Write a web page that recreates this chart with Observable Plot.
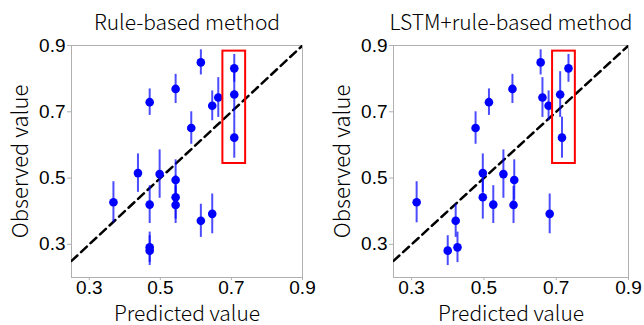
<!DOCTYPE html>
<html>
<head>
<meta charset="utf-8">
<script src="https://cdn.jsdelivr.net/npm/d3@7"></script>
<script src="https://cdn.jsdelivr.net/npm/@observablehq/plot@0.6"></script>
<style>
  html, body { margin: 0; padding: 0; background: #fff; }
  #row { display: flex; width: 644px; height: 325px; }
  #row svg { display: block; }
</style>
</head>
<body>
<div id="row"></div>
<script>
// ---- data ----
const panelTitles = ["Rule-based method", "LSTM+rule-based method"];
const observed    = [0.427, 0.515, 0.729, 0.420, 0.291, 0.281, 0.512, 0.769, 0.494, 0.442,
                     0.419, 0.651, 0.849, 0.371, 0.718, 0.392, 0.743, 0.831, 0.752, 0.622];
const observedErr = [0.062, 0.058, 0.040, 0.057, 0.046, 0.045, 0.073, 0.044, 0.061, 0.066,
                     0.056, 0.049, 0.038, 0.050, 0.045, 0.060, 0.060, 0.042, 0.069, 0.062];
const predRule    = [0.368, 0.437, 0.470, 0.470, 0.470, 0.470, 0.498, 0.543, 0.543, 0.543,
                     0.543, 0.587, 0.614, 0.614, 0.646, 0.646, 0.663, 0.708, 0.708, 0.708];
const predLSTM    = [0.314, 0.497, 0.514, 0.526, 0.427, 0.400, 0.554, 0.579, 0.584, 0.497,
                     0.582, 0.477, 0.657, 0.422, 0.679, 0.682, 0.662, 0.734, 0.711, 0.716];
const tickValues  = [0.3, 0.5, 0.7, 0.9];
const xDomain     = [0.25, 0.9];
const yDomain     = [0.2, 0.9];
const boxX        = [[0.676, 0.740], [0.690, 0.753]];
const boxY        = [0.544, 0.883];

const labelFont = "'Noto Sans CJK JP', 'Noto Sans', sans-serif";
const tickFont  = "'Liberation Sans', Arial, sans-serif";

function panel(i, predicted, layout) {
  const data = observed.map((y, k) => ({x: predicted[k], y, e: observedErr[k]}));
  const box = [{x1: boxX[i][0], x2: boxX[i][1], y1: boxY[0], y2: boxY[1]}];
  const diag = xDomain.map(v => ({v}));
  return Plot.plot({
    width: layout.width,
    height: 325,
    marginLeft: layout.ml,
    marginRight: layout.mr,
    marginTop: 45,
    marginBottom: 48,
    style: {background: "#fff", color: "#000", fontFamily: tickFont, overflow: "visible"},
    x: {domain: xDomain, ticks: tickValues, tickFormat: d3.format(".1f")},
    y: {domain: yDomain, ticks: tickValues, tickFormat: d3.format(".1f")},
    marks: [
      Plot.frame({stroke: "#b0b0b0", strokeWidth: 1}),
      Plot.axisX({ticks: tickValues, tickFormat: d3.format(".1f"), tickSize: 3, stroke: "#b0b0b0",
                  fontSize: 19, tickPadding: 0, fontFamily: tickFont,
                  label: null}),
      Plot.axisY({ticks: tickValues, tickFormat: d3.format(".1f"), tickSize: 4, stroke: "#b0b0b0",
                  fontSize: 19, tickPadding: 2, fontFamily: tickFont,
                  label: null}),
      Plot.text(["Predicted value"], {frameAnchor: "bottom", dy: 43, fontSize: 21, fontWeight: 300,
                  fontFamily: labelFont, fill: "#000"}),
      Plot.text(["Observed value"], {frameAnchor: "left", textAnchor: "middle", dx: -51, rotate: -90,
                  fontSize: 22, fontWeight: 300, fontFamily: labelFont, fill: "#000"}),
      Plot.text([panelTitles[i]], {frameAnchor: "top", dy: -30, fontSize: 21, fontWeight: 300,
                  fontFamily: labelFont, fill: "#000"}),
      Plot.line(diag, {x: "v", y: "v", stroke: "#000", strokeWidth: 2.5, strokeDasharray: "8,5", clip: true}),
      Plot.ruleX(data, {x: "x", y1: d => d.y - d.e, y2: d => d.y + d.e,
                  stroke: "#0000ff", strokeOpacity: 0.7, strokeWidth: 2}),
      Plot.dot(data, {x: "x", y: "y", r: 4.3, fill: "#0000ff", stroke: "none"}),
      Plot.rect(box, {x1: "x1", x2: "x2", y1: "y1", y2: "y2", fill: "none", stroke: "#ff0000", strokeWidth: 2})
    ]
  });
}

const row = document.getElementById("row");
row.appendChild(panel(0, predRule, {width: 322, ml: 71, mr: 20}));
row.appendChild(panel(1, predLSTM, {width: 322, ml: 71, mr: 16}));
</script>
</body>
</html>
